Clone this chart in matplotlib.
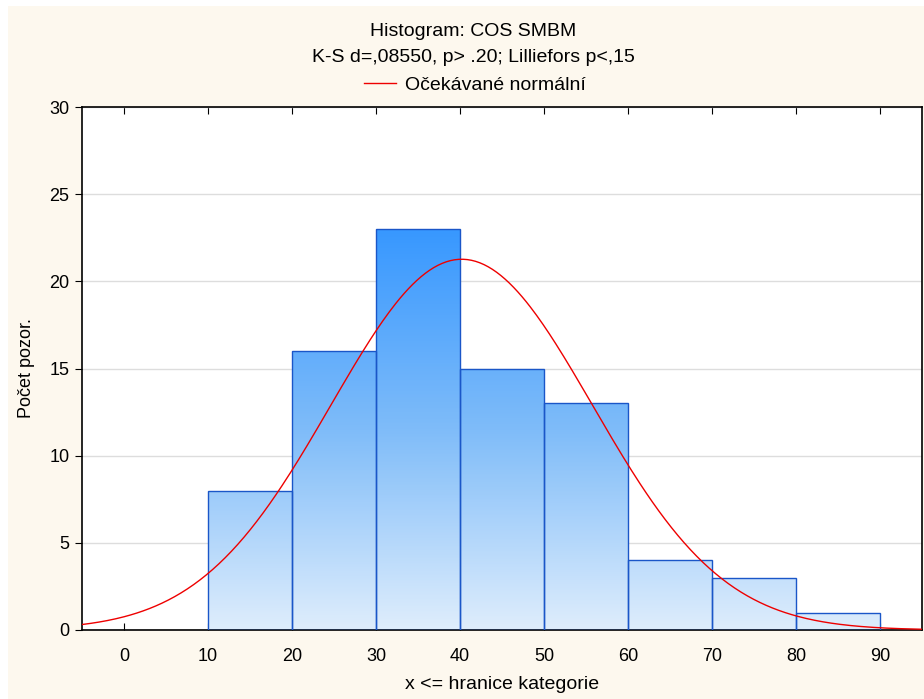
import numpy as np
import matplotlib
matplotlib.use("Agg")
import matplotlib.pyplot as plt
from matplotlib.colors import LinearSegmentedColormap
from matplotlib.patches import Rectangle

plt.rcParams['font.family'] = ['Liberation Sans', 'DejaVu Sans']

# data
bin_left = [10, 20, 30, 40, 50, 60, 70, 80]
counts = [8, 16, 23, 15, 13, 4, 3, 1]
bin_w = 10
mean, sd = 40.2, 15.57
n_obs = sum(counts)

title1 = "Histogram: COS SMBM"
title2 = "K-S d=,08550, p> .20; Lilliefors p<,15"
xticks = [0, 10, 20, 30, 40, 50, 60, 70, 80, 90]
yticks = [0, 5, 10, 15, 20, 25, 30]

W, H = 924, 699
fig = plt.figure(figsize=(W / 100, H / 100), dpi=100, facecolor="white")
fig.patches.append(Rectangle((8 / W, 0), 1, 1 - 6 / H, transform=fig.transFigure,
                             facecolor="#fdf8ee", edgecolor="none", zorder=-10))
ax = fig.add_axes([82 / W, 1 - 630 / H, 840 / W, 523 / H])
ax.set_facecolor("white")

# bars with a vertical gradient (shared scale: darkest at the tallest bar)
cmap = LinearSegmentedColormap.from_list("bar", ["#deedfc", "#7fbcf9", "#3898ff"])
vmax = max(counts)
for x0, c in zip(bin_left, counts):
    rect = Rectangle((x0, 0), bin_w, c, facecolor="none", edgecolor="#1a56c8", lw=1.0, zorder=3)
    ax.add_patch(rect)
    grad = np.linspace(c, 0, 100).reshape(-1, 1)
    im = ax.imshow(grad, extent=[x0, x0 + bin_w, 0, c], cmap=cmap, vmin=0, vmax=vmax,
                   aspect="auto", zorder=2, interpolation="bilinear")
    im.set_clip_path(rect)

xs = np.linspace(-5, 95, 400)
ys = n_obs * bin_w * np.exp(-0.5 * ((xs - mean) / sd) ** 2) / (sd * np.sqrt(2 * np.pi))
ax.plot(xs, ys, color="#ee0000", lw=1.0, zorder=4, label="Očekávané normální")

ax.set_xlim(-5, 95)
ax.set_ylim(0, 30)
ax.set_xticks(xticks)
ax.set_yticks(yticks)
ax.grid(axis="y", color="#dddddd", lw=1.0, zorder=0)
ax.set_axisbelow(True)
ax.tick_params(axis="x", direction="in", top=True, length=5, labelsize=13, pad=13)
ax.tick_params(axis="y", direction="out", length=5, labelsize=13, pad=4)
for s in ax.spines.values():
    s.set_linewidth(1.2)

ax.set_xlabel("x <= hranice kategorie", fontsize=14, labelpad=8)
ax.set_ylabel("Počet pozor.", fontsize=13, labelpad=10)
fig.text(473 / W, 1 - 31 / H, title1, ha="center", va="center", fontsize=14)
fig.text(473 / W, 1 - 57 / H, title2, ha="center", va="center", fontsize=14)
ax.legend(loc="center", bbox_to_anchor=(475 / W, 1 - 85 / H), bbox_transform=fig.transFigure,
          frameon=False, fontsize=14, handlelength=1.65, handletextpad=0.45,
          borderpad=0, borderaxespad=0)

fig.savefig("out.png", dpi=100, facecolor=fig.get_facecolor())
